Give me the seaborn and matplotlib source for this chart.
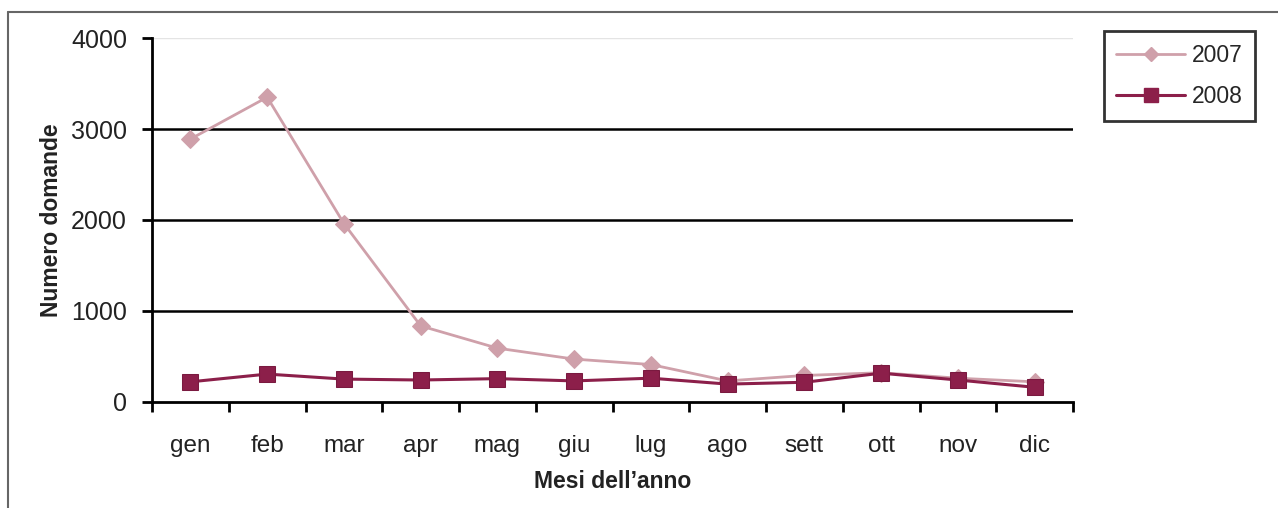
import pandas as pd
import seaborn as sns
import matplotlib.pyplot as plt
from matplotlib.lines import Line2D

mesi = ['gen', 'feb', 'mar', 'apr', 'mag', 'giu', 'lug', 'ago', 'sett', 'ott', 'nov', 'dic']
domande_2007 = [2890, 3350, 1960, 835, 590, 470, 410, 230, 290, 320, 260, 220]
domande_2008 = [220, 305, 250, 240, 255, 230, 260, 195, 215, 315, 240, 160]
anni = ['2007', '2008']

df = pd.DataFrame({
    'mese': mesi * 2,
    'domande': domande_2007 + domande_2008,
    'anno': ['2007'] * 12 + ['2008'] * 12,
})

sns.set_style('white')
plt.rcParams['font.family'] = ['Liberation Sans', 'DejaVu Sans']

colori = {'2007': '#CFA0AA', '2008': '#8C1F4A'}

fig = plt.figure(figsize=(12.78, 5.08), dpi=100)
ax = fig.add_axes([0.119, 0.209, 0.7206, 0.716])

# griglia orizzontale
for v in [1000, 2000, 3000]:
    ax.axhline(v, color='black', lw=1.8, zorder=0)
ax.axhline(4000, color='#E4E4E4', lw=1.0, zorder=0)

sns.lineplot(data=df[df['anno'] == '2007'], x='mese', y='domande', color=colori['2007'],
             marker='D', markersize=9, markeredgecolor=colori['2007'], lw=2, ax=ax, zorder=3)
sns.lineplot(data=df[df['anno'] == '2008'], x='mese', y='domande', color=colori['2008'],
             marker='s', markersize=12, markeredgecolor='#7A1A40', lw=2.2, ax=ax, zorder=4)

ax.set_xlim(-0.5, 11.5)
ax.set_ylim(0, 4000)
ax.set_yticks([0, 1000, 2000, 3000, 4000])
ax.set_xticks(range(12))
ax.set_xticklabels(mesi)
ax.set_xticks([i - 0.5 for i in range(13)], minor=True)
ax.tick_params(axis='x', which='major', length=0, pad=24, labelsize=17.5, colors='#222222')
ax.tick_params(axis='x', which='minor', length=7, width=2, direction='out', color='black')
ax.tick_params(axis='y', length=7, width=2, direction='out', color='black', labelsize=18, pad=11,
               labelcolor='#222222')
ax.tick_params(axis='both', bottom=True, left=True)
ax.xaxis.set_tick_params(which='minor', bottom=True)

for s in ['top', 'right']:
    ax.spines[s].set_visible(False)
for s in ['left', 'bottom']:
    ax.spines[s].set_color('black')
    ax.spines[s].set_linewidth(2)

ax.set_xlabel('Mesi dell\u2019anno', fontsize=16.5, fontweight='bold', labelpad=9, color='#222222')
ax.set_ylabel('Numero domande', fontsize=16.5, fontweight='bold', labelpad=6, color='#222222')

handles = [
    Line2D([], [], color=colori['2007'], marker='D', markersize=7, lw=2),
    Line2D([], [], color=colori['2008'], marker='s', markersize=10, lw=2.2),
]
leg = fig.legend(handles, anni, loc='upper left', bbox_to_anchor=(0.8635, 0.939), frameon=True,
                 fontsize=16.5, handlelength=3.0, borderpad=0.55, labelspacing=0.8,
                 fancybox=False, edgecolor='black', handletextpad=0.3, borderaxespad=0)
leg.get_frame().set_linewidth(2)

# cornice esterna
fig.add_artist(Line2D([0.0063, 0.0063], [0, 0.976], color='#666666', lw=1.5, transform=fig.transFigure))
fig.add_artist(Line2D([0.0063, 1.0], [0.976, 0.976], color='#666666', lw=1.5, transform=fig.transFigure))

fig.savefig('out.png', dpi=100)
